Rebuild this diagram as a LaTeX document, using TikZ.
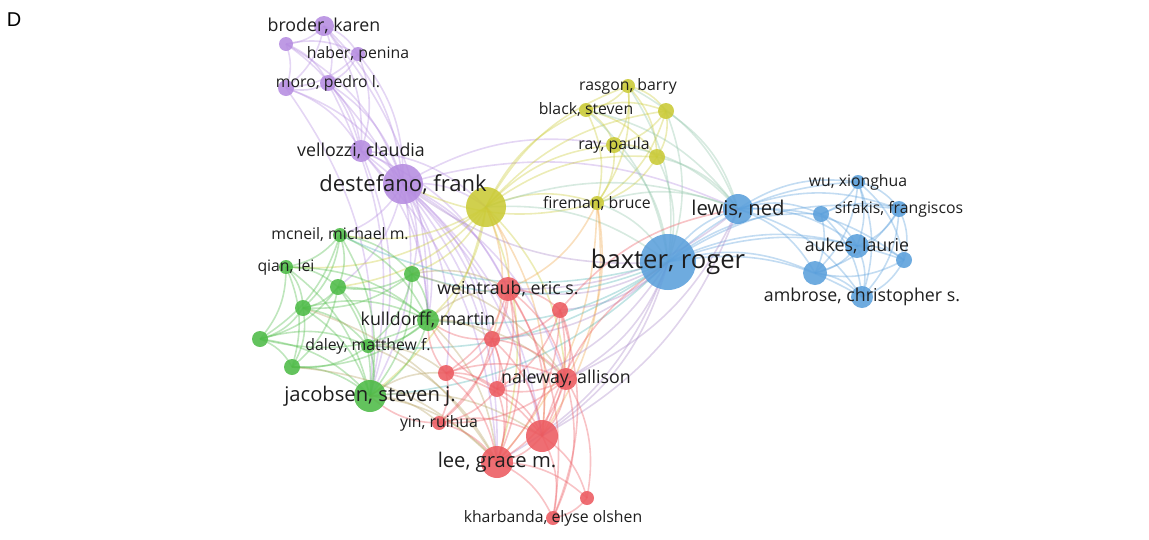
\documentclass[tikz,border=0pt]{standalone}
\usepackage{fontspec}
\setmainfont{Open Sans}
\newfontfamily\dfont{Liberation Sans}
\pgfdeclarelayer{bg}
\pgfsetlayers{bg,main}
\definecolor{cR}{HTML}{EC5A60}
\definecolor{cG}{HTML}{4DBB47}
\definecolor{cB}{HTML}{5A9FDB}
\definecolor{cY}{HTML}{CACA35}
\definecolor{cP}{HTML}{B58CE0}
\definecolor{cYB}{HTML}{8FC4A8}
\definecolor{cYR}{HTML}{EFA64A}
\definecolor{cBR}{HTML}{A887C8}
\definecolor{cBG}{HTML}{52B5B5}
\definecolor{cGR}{HTML}{B5A060}
\begin{document}
\begin{tikzpicture}[x=1pt,y=-1pt,
  nd/.style={circle,inner sep=0pt,minimum size=#1,draw=none,fill opacity=0.88},
  edg/.style={line width=1.6pt,opacity=0.36,bend left=20},
  lbl/.style={text=black!88,inner sep=0pt,font=\fontsize{#1}{#1}\selectfont}]
\useasboundingbox (0,0) rectangle (1149,539);
% purple
\node[nd=20pt,fill=cP] (bro) at (324,26) {};
\node[nd=14pt,fill=cP] (p2) at (286,44) {};
\node[nd=14pt,fill=cP] (hab) at (358,54) {};
\node[nd=16pt,fill=cP] (mor) at (328,83) {};
\node[nd=16pt,fill=cP] (p5) at (286,88) {};
\node[nd=22pt,fill=cP] (vel) at (361,151) {};
\node[nd=40pt,fill=cP] (des) at (403,184) {};
% yellow
\node[nd=40pt,fill=cY] (Y) at (486,207) {};
\node[nd=14pt,fill=cY] (ras) at (628,86) {};
\node[nd=14pt,fill=cY] (bla) at (586,110) {};
\node[nd=16pt,fill=cY] (y3) at (666,111) {};
\node[nd=16pt,fill=cY] (ray) at (614,145) {};
\node[nd=16pt,fill=cY] (y5) at (657,157) {};
\node[nd=14pt,fill=cY] (fir) at (597,203) {};
% blue
\node[nd=56pt,fill=cB] (bax) at (668,262) {};
\node[nd=30pt,fill=cB] (lew) at (738,209) {};
\node[nd=14pt,fill=cB] (wu) at (858,182) {};
\node[nd=16pt,fill=cB] (b3) at (821,214) {};
\node[nd=16pt,fill=cB] (sif) at (899,209) {};
\node[nd=24pt,fill=cB] (auk) at (857,246) {};
\node[nd=16pt,fill=cB] (b6) at (904,260) {};
\node[nd=24pt,fill=cB] (b7) at (815,273) {};
\node[nd=22pt,fill=cB] (amb) at (862,297) {};
% green
\node[nd=14pt,fill=cG] (mcn) at (340,235) {};
\node[nd=14pt,fill=cG] (qia) at (286,267) {};
\node[nd=16pt,fill=cG] (g3) at (412,274) {};
\node[nd=16pt,fill=cG] (g4) at (338,287) {};
\node[nd=16pt,fill=cG] (g5) at (303,308) {};
\node[nd=22pt,fill=cG] (kul) at (428,320) {};
\node[nd=16pt,fill=cG] (g7) at (260,339) {};
\node[nd=14pt,fill=cG] (dal) at (368,346) {};
\node[nd=16pt,fill=cG] (g9) at (292,367) {};
\node[nd=32pt,fill=cG] (jac) at (370,396) {};
% red
\node[nd=24pt,fill=cR] (wei) at (508,289) {};
\node[nd=16pt,fill=cR] (r2) at (560,310) {};
\node[nd=16pt,fill=cR] (r3) at (492,339) {};
\node[nd=16pt,fill=cR] (r4) at (446,373) {};
\node[nd=22pt,fill=cR] (nal) at (566,379) {};
\node[nd=16pt,fill=cR] (r6) at (497,389) {};
\node[nd=14pt,fill=cR] (yin) at (439,423) {};
\node[nd=32pt,fill=cR] (r8) at (542,436) {};
\node[nd=32pt,fill=cR] (lee) at (497,462) {};
\node[nd=14pt,fill=cR] (r10) at (587,498) {};
\node[nd=14pt,fill=cR] (kha) at (553,518) {};

\begin{pgfonlayer}{bg}
\foreach \a/\b in {bro/p2,bro/hab,bro/mor,bro/p5,bro/vel,bro/des,p2/hab,p2/mor,p2/p5,p2/vel,p2/des,hab/mor,hab/p5,hab/vel,hab/des,mor/p5,mor/vel,mor/des,p5/vel,p5/des,vel/des,des/Y,des/lew,des/ray,vel/Y,des/wei,des/r3,des/nal,des/lee,des/r8,des/r6,des/r4,des/kul,des/jac,des/g3,des/mcn,des/g4,vel/kul,vel/jac,vel/lee,vel/wei,vel/r8,mor/kul,mor/jac,p5/jac,bro/kul}
  \draw[edg,cP] (\a.center) to (\b.center);
\foreach \a/\b in {ras/bla,ras/y3,ras/ray,ras/y5,ras/fir,bla/y3,bla/ray,bla/y5,bla/fir,y3/ray,y3/y5,y3/fir,ray/y5,ray/fir,y5/fir,Y/ras,Y/bla,Y/y3,Y/ray,Y/y5,Y/fir,Y/kul,Y/jac,Y/g3,Y/mcn,Y/nal,Y/lee,Y/qia,Y/g4,fir/des}
  \draw[edg,cY] (\a.center) to (\b.center);
\foreach \a/\b in {ras/lew,ras/bax,y3/lew,y3/bax,y5/lew,y5/bax,bla/bax,ray/bax,ray/lew,fir/bax,fir/lew,bla/lew,Y/lew,Y/bax}
  \draw[edg,cYB] (\a.center) to (\b.center);
\foreach \a/\b in {fir/nal,fir/lee,fir/r8,fir/wei,Y/r3,Y/r8,Y/wei}
  \draw[edg,cYR] (\a.center) to (\b.center);
\foreach \a/\b in {lew/wu,lew/b3,lew/sif,lew/auk,lew/b6,lew/b7,lew/amb,bax/wu,bax/b3,bax/sif,bax/auk,bax/b6,bax/b7,bax/amb,bax/lew,wu/b3,wu/sif,wu/auk,wu/b6,wu/b7,wu/amb,b3/sif,b3/auk,b3/b7,b3/amb,sif/auk,sif/b6,sif/amb,sif/b7,auk/b6,auk/b7,auk/amb,b6/b7,b6/amb,b7/amb}
  \draw[edg,cB] (\a.center) to (\b.center);
\foreach \a/\b in {bax/wei,bax/r2,bax/nal,bax/r3,bax/lee,bax/r8,bax/r6,lew/wei,lew/nal,lew/r8,bax/des}
  \draw[edg,cBR] (\a.center) to (\b.center);
\foreach \a/\b in {bax/kul,bax/jac,bax/dal,bax/g3,bax/mcn}
  \draw[edg,cBG] (\a.center) to (\b.center);
\foreach \a/\b in {mcn/qia,mcn/g3,mcn/g4,mcn/g5,mcn/kul,mcn/g7,mcn/jac,qia/g4,qia/g5,qia/g7,qia/g9,qia/jac,qia/kul,g3/g4,g3/kul,g3/dal,g3/jac,g3/g5,g4/g5,g4/kul,g4/g7,g4/dal,g4/jac,g4/g9,g5/g7,g5/g9,g5/jac,g5/kul,g5/dal,kul/dal,kul/jac,kul/g9,kul/g7,g7/g9,g7/jac,g7/dal,dal/jac,dal/g9,g9/jac}
  \draw[edg,cG] (\a.center) to (\b.center);
\foreach \a/\b in {jac/lee,jac/r8,jac/yin,jac/r4,kul/wei,kul/r3,kul/nal,kul/lee,g3/wei,g3/nal,dal/lee,dal/r4,g9/lee,g5/lee}
  \draw[edg,cGR] (\a.center) to (\b.center);
\foreach \a/\b in {wei/r2,wei/r3,wei/r4,wei/nal,wei/r6,wei/yin,wei/r8,wei/lee,r2/r3,r2/nal,r2/r6,r2/r8,r2/lee,r3/r4,r3/nal,r3/r6,r3/yin,r3/r8,r3/lee,r4/nal,r4/r6,r4/yin,r4/r8,r4/lee,nal/r6,nal/yin,nal/r8,nal/lee,nal/r10,nal/kha,r6/yin,r6/r8,r6/lee,yin/r8,yin/lee,r8/lee,r8/r10,r8/kha,lee/r10,lee/kha,r10/kha,wei/kha,r2/kha,r8/bax,r2/lew,r4/kul,r6/kul,r3/kul,yin/jac}
  \draw[edg,cR] (\a.center) to (\b.center);
\end{pgfonlayer}

% labels
\node[lbl=17.8] at (bro) {broder, karen};
\node[lbl=15.8] at (hab) {haber, penina};
\node[lbl=15.8] at (mor) {moro, pedro l.};
\node[lbl=17.8] at (vel) {vellozzi, claudia};
\node[lbl=22] at (des) {destefano, frank};
\node[lbl=15.8] at (ras) {rasgon, barry};
\node[lbl=15.8] at (bla) {black, steven};
\node[lbl=15.8] at (ray) {ray, paula};
\node[lbl=15.8] at (fir) {fireman, bruce};
\node[lbl=25.6] at (bax) {baxter, roger};
\node[lbl=20.3] at (lew) {lewis, ned};
\node[lbl=15.8] at (wu) {wu, xionghua};
\node[lbl=15.8] at (sif) {sifakis, frangiscos};
\node[lbl=17.8] at (auk) {aukes, laurie};
\node[lbl=17.8] at (amb) {ambrose, christopher s.};
\node[lbl=15.8] at (mcn) {mcneil, michael m.};
\node[lbl=15.8] at (qia) {qian, lei};
\node[lbl=17.8] at (kul) {kulldorff, martin};
\node[lbl=15.8] at (dal) {daley, matthew f.};
\node[lbl=20.2] at (jac) {jacobsen, steven j.};
\node[lbl=17.8] at (wei) {weintraub, eric s.};
\node[lbl=17.8] at (nal) {naleway, allison};
\node[lbl=15.8] at (yin) {yin, ruihua};
\node[lbl=20.2] at (lee) {lee, grace m.};
\node[lbl=15.8] at (kha) {kharbanda, elyse olshen};
\node[font=\dfont\fontsize{20}{20}\selectfont,inner sep=0pt] (dlabel) at (14,20) {D};
\end{tikzpicture}
\end{document}
